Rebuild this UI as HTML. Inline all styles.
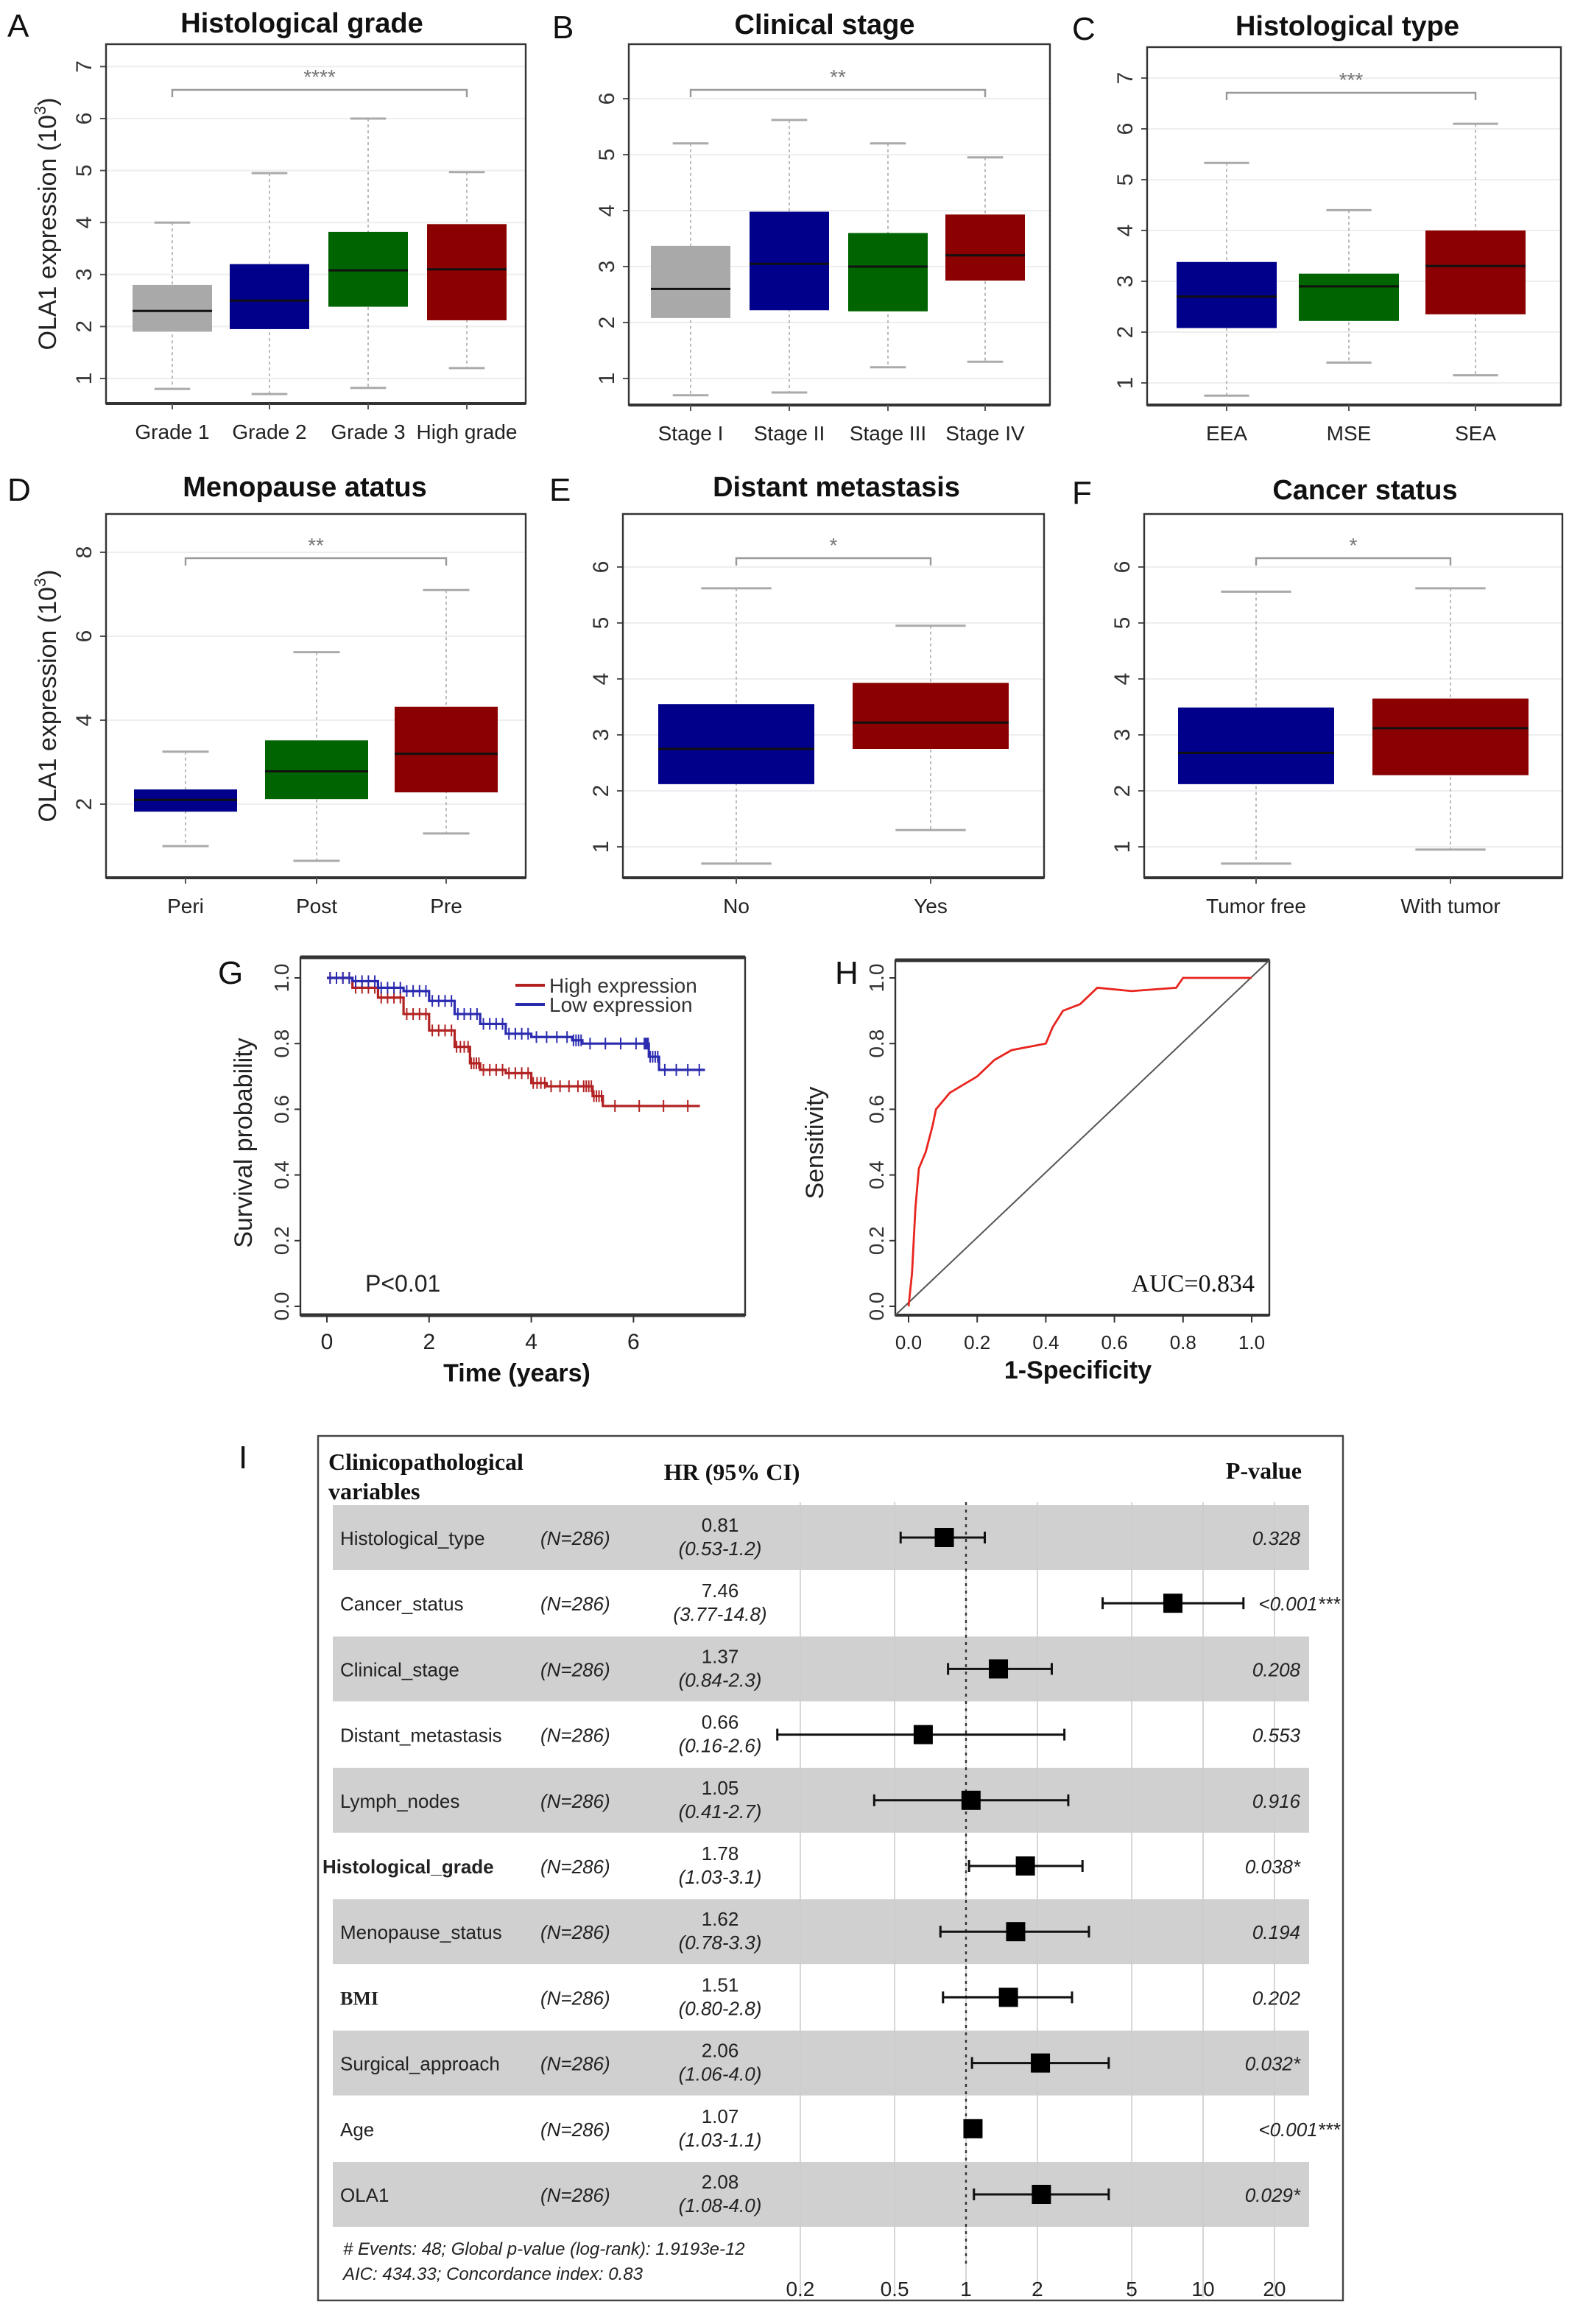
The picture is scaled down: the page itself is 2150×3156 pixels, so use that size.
<!DOCTYPE html>
<html><head><meta charset="utf-8"><style>
html,body{margin:0;padding:0;background:#fff;}
svg{display:block;font-family:"Liberation Sans",sans-serif;}
</style></head><body>
<svg id="fig" width="2150" height="3156" viewBox="0 0 1075 1578" xmlns="http://www.w3.org/2000/svg"></svg>
<script>
// ---- Box plot data ----
const catA=["Grade 1","Grade 2","Grade 3","High grade"];
const loA=[0.8,0.7,0.82,1.2], q1A=[1.9,1.95,2.38,2.12], medA=[2.3,2.5,3.08,3.1], q3A=[2.8,3.2,3.82,3.97], hiA=[4.0,4.95,6.0,4.97];
const catB=["Stage I","Stage II","Stage III","Stage IV"];
const loB=[0.7,0.75,1.2,1.3], q1B=[2.08,2.22,2.2,2.75], medB=[2.6,3.05,3.0,3.2], q3B=[3.37,3.98,3.6,3.93], hiB=[5.2,5.62,5.2,4.95];
const catC=["EEA","MSE","SEA"];
const loC=[0.75,1.4,1.15], q1C=[2.08,2.22,2.35], medC=[2.7,2.9,3.3], q3C=[3.38,3.15,4.0], hiC=[5.33,4.4,6.1];
const catD=["Peri","Post","Pre"];
const loD=[1.0,0.65,1.3], q1D=[1.82,2.12,2.28], medD=[2.1,2.78,3.2], q3D=[2.35,3.52,4.32], hiD=[3.25,5.62,7.1];
const catE=["No","Yes"];
const loE=[0.7,1.3], q1E=[2.12,2.75], medE=[2.75,3.22], q3E=[3.55,3.93], hiE=[5.62,4.95];
const catF=["Tumor free","With tumor"];
const loF=[0.7,0.95], q1F=[2.12,2.28], medF=[2.68,3.12], q3F=[3.49,3.65], hiF=[5.56,5.62];
const ticksA=[1,2,3,4,5,6,7], ticksB=[1,2,3,4,5,6], ticksC=[1,2,3,4,5,6,7], ticksD=[2,4,6,8], ticksE=[1,2,3,4,5,6], ticksF=[1,2,3,4,5,6];
// ---- KM data ----
const kmHighT=[0,0.5,1,1.5,2,2.5,2.8,3.0,3.5,4.0,4.3,5.0,5.2,5.4,7.3];
const kmHighS=[1.0,0.97,0.94,0.89,0.84,0.79,0.74,0.72,0.71,0.68,0.67,0.67,0.64,0.61,0.61];
const kmLowT=[0,0.5,1.0,1.5,2.0,2.5,3.0,3.5,4.0,4.8,5.0,6.2,6.3,6.5,7.4];
const kmLowS=[1.0,0.99,0.97,0.96,0.93,0.89,0.86,0.83,0.82,0.81,0.80,0.80,0.76,0.72,0.72];
const kmXTicks=[0,2,4,6], kmYTicks=[0,0.2,0.4,0.6,0.8,1.0];
// ---- ROC data ----
const rocX=[0,0.01,0.015,0.02,0.03,0.05,0.07,0.08,0.12,0.2,0.25,0.3,0.4,0.42,0.45,0.5,0.55,0.65,0.78,0.8,0.9,1.0];
const rocY=[0,0.1,0.2,0.3,0.42,0.47,0.55,0.6,0.65,0.7,0.75,0.78,0.8,0.85,0.9,0.92,0.97,0.96,0.97,1.0,1.0,1.0];
const rocTicks=[0,0.2,0.4,0.6,0.8,1.0];
// ---- Forest data ----
const fNames=["Histological_type","Cancer_status","Clinical_stage","Distant_metastasis","Lymph_nodes","Histological_grade","Menopause_status","BMI","Surgical_approach","Age","OLA1"];
const fHR=[0.81,7.46,1.37,0.66,1.05,1.78,1.62,1.51,2.06,1.07,2.08];
const fLo=[0.53,3.77,0.84,0.16,0.41,1.03,0.78,0.80,1.06,1.03,1.08];
const fHi=[1.2,14.8,2.3,2.6,2.7,3.1,3.3,2.8,4.0,1.1,4.0];
const fHRtxt=["0.81","7.46","1.37","0.66","1.05","1.78","1.62","1.51","2.06","1.07","2.08"];
const fCItxt=["(0.53-1.2)","(3.77-14.8)","(0.84-2.3)","(0.16-2.6)","(0.41-2.7)","(1.03-3.1)","(0.78-3.3)","(0.80-2.8)","(1.06-4.0)","(1.03-1.1)","(1.08-4.0)"];
const fP=["0.328","<0.001***","0.208","0.553","0.916","0.038*","0.194","0.202","0.032*","<0.001***","0.029*"];
const fTicks=[0.2,0.5,1,2,5,10,20];

const NS="http://www.w3.org/2000/svg";
const svg=document.getElementById('fig');
function el(tag,attrs,parent,text){const e=document.createElementNS(NS,tag);for(const k in attrs)e.setAttribute(k,attrs[k]);if(text!==undefined)e.textContent=text;(parent||svg).appendChild(e);return e;}

const colors4=["#a9a9a9","#00008b","#006400","#8b0000"];
function boxPanel(o){
  const g=el('g',{});
  
  
  const y=v=>o.y0-(v-o.v0)*o.k;
  const t=el('text',{x:o.tx,y:o.ty,'font-size':19,'font-weight':'bold','text-anchor':'middle',fill:'#111'},g,o.title);
  
  const L=el('text',{x:o.lx,y:o.ty+3,'font-size':22,fill:'#111'},g,o.letter);
  
  o.ticks.forEach(v=>{
    el('line',{x1:o.x1,x2:o.x2,y1:y(v),y2:y(v),stroke:'#eee','stroke-width':1},g);
    el('line',{x1:o.x1-4,x2:o.x1,y1:y(v),y2:y(v),stroke:'#555'},g);
    const tl=el('text',{x:0,y:0,'font-size':15,'text-anchor':'middle',fill:'#333',transform:`translate(${o.x1-10},${y(v)}) rotate(-90)`},g,String(v));
    
  });
  el('rect',{x:o.x1,y:o.y1,width:o.x2-o.x1,height:o.y2-o.y1,fill:'none',stroke:'#333','stroke-width':1.2},g);
  el('line',{x1:o.x1,x2:o.x2,y1:o.y2,y2:o.y2,stroke:'#333','stroke-width':2},g);
  o.cats.forEach((c,i)=>{
    const cx=o.cx[i], w=o.bw/2;
    el('line',{x1:cx,x2:cx,y1:y(o.hi[i]),y2:y(o.lo[i]),stroke:'#bbb','stroke-dasharray':'2,2'},g);
    el('line',{x1:cx-w*0.45,x2:cx+w*0.45,y1:y(o.hi[i]),y2:y(o.hi[i]),stroke:'#aaa','stroke-width':1.5},g);
    el('line',{x1:cx-w*0.45,x2:cx+w*0.45,y1:y(o.lo[i]),y2:y(o.lo[i]),stroke:'#aaa','stroke-width':1.5},g);
    const b=el('rect',{x:cx-w,y:y(o.q3[i]),width:o.bw,height:y(o.q1[i])-y(o.q3[i]),fill:o.col[i]},g);
    
    
    el('line',{x1:cx-w,x2:cx+w,y1:y(o.med[i]),y2:y(o.med[i]),stroke:'#111','stroke-width':1.5},g);
    el('line',{x1:cx,x2:cx,y1:o.y2,y2:o.y2+4,stroke:'#555'},g);
    const xl=el('text',{x:cx,y:o.y2+24,'font-size':14,'text-anchor':'middle',fill:'#222'},g,c);
    
  });
  const bx1=o.cx[0], bx2=o.cx[o.cx.length-1], by=o.by;
  el('path',{d:`M${bx1},${by+5}V${by}H${bx2}V${by+5}`,fill:'none',stroke:'#999','stroke-width':1.2},g);
  const st=el('text',{x:(bx1+bx2)/2,y:by-4,'font-size':14,'text-anchor':'middle',fill:'#777'},g,o.stars);
  
  if(o.ylab){const yl=el('text',{x:0,y:0,'font-size':17,'text-anchor':'middle',fill:'#222',transform:`translate(${o.x1-34},${(o.y1+o.y2)/2}) rotate(-90)`},g);
    
    el('tspan',{},yl,'OLA1 expression (10');el('tspan',{'font-size':11,dy:-7},yl,'3');el('tspan',{dy:7},yl,')');}
}
boxPanel({name:'panel-a',title:'Histological grade',letter:'A',tx:205,ty:22,lx:5,x1:72,x2:357,y1:30,y2:274,y0:257,v0:1,k:35.3,ticks:ticksA,cats:catA,cx:[117,183,250,317],bw:54,lo:loA,q1:q1A,med:medA,q3:q3A,hi:hiA,col:colors4,by:61,stars:'****',ylab:true});
boxPanel({name:'panel-b',title:'Clinical stage',letter:'B',tx:560,ty:23,lx:375,x1:427,x2:713,y1:30,y2:275,y0:257,v0:1,k:38,ticks:ticksB,cats:catB,cx:[469,536,603,669],bw:54,lo:loB,q1:q1B,med:medB,q3:q3B,hi:hiB,col:colors4,by:61,stars:'**'});
boxPanel({name:'panel-c',title:'Histological type',letter:'C',tx:915,ty:24,lx:728,x1:779,x2:1060,y1:32,y2:275,y0:260,v0:1,k:34.5,ticks:ticksC,cats:catC,cx:[833,916,1002],bw:68,lo:loC,q1:q1C,med:medC,q3:q3C,hi:hiC,col:["#00008b","#006400","#8b0000"],by:63,stars:'***'});
boxPanel({name:'panel-d',title:'Menopause atatus',letter:'D',tx:207,ty:337,lx:5,x1:72,x2:357,y1:349,y2:596,y0:546,v0:2,k:28.5,ticks:ticksD,cats:catD,cx:[126,215,303],bw:70,lo:loD,q1:q1D,med:medD,q3:q3D,hi:hiD,col:["#00008b","#006400","#8b0000"],by:379,stars:'**',ylab:true});
boxPanel({name:'panel-e',title:'Distant metastasis',letter:'E',tx:568,ty:337,lx:373,x1:423,x2:709,y1:349,y2:596,y0:575,v0:1,k:38,ticks:ticksE,cats:catE,cx:[500,632],bw:106,lo:loE,q1:q1E,med:medE,q3:q3E,hi:hiE,col:["#00008b","#8b0000"],by:379,stars:'*'});
boxPanel({name:'panel-f',title:'Cancer status',letter:'F',tx:927,ty:339,lx:728,x1:777,x2:1061,y1:349,y2:596,y0:575,v0:1,k:38,ticks:ticksF,cats:catF,cx:[853,985],bw:106,lo:loF,q1:q1F,med:medF,q3:q3F,hi:hiF,col:["#00008b","#8b0000"],by:379,stars:'*'});

// ---- Panel G: KM ----
(function(){
  const g=el('g',{});
  const X=t=>222+t*34.7, Y=s=>887-s*223;
  const L=el('text',{x:148,y:668,'font-size':22,fill:'#111'},g,'G');
  el('rect',{x:204,y:650,width:302,height:243,fill:'none',stroke:'#333','stroke-width':1.2},g);
  el('line',{x1:204,x2:506,y1:650,y2:650,stroke:'#333','stroke-width':2.5},g);
  el('line',{x1:204,x2:506,y1:893,y2:893,stroke:'#333','stroke-width':2.5},g);
  kmYTicks.forEach(v=>{el('line',{x1:200,x2:204,y1:Y(v),y2:Y(v),stroke:'#333'},g);
    const t=el('text',{x:0,y:0,'font-size':14,'text-anchor':'middle',fill:'#333',transform:`translate(${196},${Y(v)}) rotate(-90)`},g,v.toFixed(1));});
  kmXTicks.forEach(v=>{el('line',{x1:X(v),x2:X(v),y1:893,y2:898,stroke:'#333'},g);
    const t=el('text',{x:X(v),y:916,'font-size':15,'text-anchor':'middle',fill:'#222'},g,String(v));});
  function step(T,S,col,nm){let d=`M${X(T[0])},${Y(S[0])}`;for(let i=1;i<T.length;i++){d+=`H${X(T[i])}V${Y(S[i])}`;}
    const p=el('path',{d:d,fill:'none',stroke:col,'stroke-width':1.6},g);
    for(let i=0;i<T.length-1;i++){for(let j=0;j<4;j++){const tt=T[i]+(T[i+1]-T[i])*(j+0.5)/4;el('line',{x1:X(tt),x2:X(tt),y1:Y(S[i])-4,y2:Y(S[i])+4,stroke:col,'stroke-width':1},g);}}}
  step(kmHighT,kmHighS,'#b22222','km-high-expression');
  step(kmLowT,kmLowS,'#2b2bb0','km-low-expression');
  el('line',{x1:350,x2:370,y1:669,y2:669,stroke:'#b22222','stroke-width':2},g);
  el('line',{x1:350,x2:370,y1:682,y2:682,stroke:'#2b2bb0','stroke-width':2},g);
  const l1=el('text',{x:373,y:674,'font-size':14,fill:'#333'},g,'High expression');
  const l2=el('text',{x:373,y:687,'font-size':14,fill:'#333'},g,'Low expression');
  const p=el('text',{x:248,y:877,'font-size':16,fill:'#222'},g,'P<0.01');
  const xt=el('text',{x:351,y:938,'font-size':17,'font-weight':'bold','text-anchor':'middle',fill:'#111'},g,'Time (years)');
  const yt=el('text',{x:0,y:0,'font-size':17,'text-anchor':'middle',fill:'#222',transform:'translate(171,776) rotate(-90)'},g,'Survival probability');
})();

// ---- Panel H: ROC ----
(function(){
  const g=el('g',{});
  const X=v=>617+v*233, Y=v=>887-v*223;
  const L=el('text',{x:567,y:668,'font-size':22,fill:'#111'},g,'H');
  el('rect',{x:608,y:652,width:254,height:241,fill:'none',stroke:'#333','stroke-width':1.2},g);
  el('line',{x1:608,x2:862,y1:652,y2:652,stroke:'#333','stroke-width':2.5},g);
  el('line',{x1:608,x2:862,y1:893,y2:893,stroke:'#333','stroke-width':2},g);
  rocTicks.forEach(v=>{el('line',{x1:604,x2:608,y1:Y(v),y2:Y(v),stroke:'#333'},g);
    const t=el('text',{x:0,y:0,'font-size':14,'text-anchor':'middle',fill:'#333',transform:`translate(600,${Y(v)}) rotate(-90)`},g,v.toFixed(1));
    el('line',{x1:X(v),x2:X(v),y1:893,y2:898,stroke:'#333'},g);
    const t2=el('text',{x:X(v),y:916,'font-size':13,'text-anchor':'middle',fill:'#222'},g,v.toFixed(1));});
  el('line',{x1:608,y1:893,x2:862,y2:652,stroke:'#555','stroke-width':1},g);
  let d='';rocX.forEach((v,i)=>{d+=(i?'L':'M')+X(v)+','+Y(rocY[i]);});
  const p=el('path',{d:d,fill:'none',stroke:'#e8251e','stroke-width':1.4},g);
  const a=el('text',{x:852,y:877,'font-size':17,'text-anchor':'end','font-family':'Liberation Serif, serif',fill:'#111'},g,'AUC=0.834');
  const xt=el('text',{x:732,y:936,'font-size':17,'font-weight':'bold','text-anchor':'middle',fill:'#111'},g,'1-Specificity');
  const yt=el('text',{x:0,y:0,'font-size':17,'text-anchor':'middle',fill:'#222',transform:'translate(559,776) rotate(-90)'},g,'Sensitivity');
})();

// ---- Panel I: Forest ----
(function(){
  const g=el('g',{});
  const X=v=>656+Math.log10(v)*161;
  const rowY=i=>1044+i*44.6;
  const L=el('text',{x:162,y:997,'font-size':22,fill:'#111'},g,'I');
  el('rect',{x:216,y:975,width:696,height:587,fill:'none',stroke:'#444','stroke-width':1.2},g);
  fNames.forEach((n,i)=>{if(i%2===0){const r=el('rect',{x:226,y:rowY(i)-22,width:663,height:44,fill:'#d0d0d0'},g);}});
  fTicks.forEach(v=>{el('line',{x1:X(v),x2:X(v),y1:1020,y2:1560,stroke:'#ccc','stroke-width':0.8},g);
    const t=el('text',{x:X(v),y:1559,'font-size':14,'text-anchor':'middle',fill:'#222'},g,String(v));});
  el('line',{x1:X(1),x2:X(1),y1:1020,y2:1540,stroke:'#333','stroke-width':1.2,'stroke-dasharray':'2,3'},g);
  const ser='Liberation Serif, serif';
  const h1=el('text',{x:223,y:998,'font-size':16,'font-weight':'bold','font-family':ser,fill:'#111'},g,'Clinicopathological');
  el('text',{x:223,y:1018,'font-size':16,'font-weight':'bold','font-family':ser,fill:'#111'},g,'variables');
  const h2=el('text',{x:497,y:1005,'font-size':16,'font-weight':'bold','font-family':ser,'text-anchor':'middle',fill:'#111'},g,'HR (95% CI)');
  const h3=el('text',{x:884,y:1004,'font-size':16,'font-weight':'bold','font-family':ser,'text-anchor':'end',fill:'#111'},g,'P-value');
  fNames.forEach((n,i)=>{const y=rowY(i);
    const nm=el('text',{x:(n==='Histological_grade'?219:231),y:y+5,'font-size':13,fill:'#222','font-weight':(n==='BMI'||n==='Histological_grade')?'bold':'normal','font-family':n==='BMI'?ser:'Liberation Sans, sans-serif'},g,n);
    el('text',{x:367,y:y+5,'font-size':13,'font-style':'italic',fill:'#222'},g,'(N=286)');
    el('text',{x:489,y:y-4,'font-size':13,'text-anchor':'middle',fill:'#222'},g,fHRtxt[i]);
    el('text',{x:489,y:y+12,'font-size':13,'font-style':'italic','text-anchor':'middle',fill:'#222'},g,fCItxt[i]);
    const pv=el('text',{x:fP[i].includes('***')?910:883,y:y+5,'font-size':13,'font-style':'italic','text-anchor':'end',fill:'#222'},g,fP[i]);
    const ci=el('line',{x1:X(fLo[i]),x2:X(fHi[i]),y1:y,y2:y,stroke:'#111','stroke-width':1.5},g);
    el('line',{x1:X(fLo[i]),x2:X(fLo[i]),y1:y-4,y2:y+4,stroke:'#111','stroke-width':1.5},g);
    el('line',{x1:X(fHi[i]),x2:X(fHi[i]),y1:y-4,y2:y+4,stroke:'#111','stroke-width':1.5},g);
    const sq=el('rect',{x:X(fHR[i])-6.5,y:y-6.5,width:13,height:13,fill:'#000'},g);
  });
  const f1=el('text',{x:233,y:1531,'font-size':12,'font-style':'italic',fill:'#222'},g,'# Events: 48; Global p-value (log-rank): 1.9193e-12');
  el('text',{x:233,y:1548,'font-size':12,'font-style':'italic',fill:'#222'},g,'AIC: 434.33; Concordance index: 0.83');
})();
</script>
</body></html>
